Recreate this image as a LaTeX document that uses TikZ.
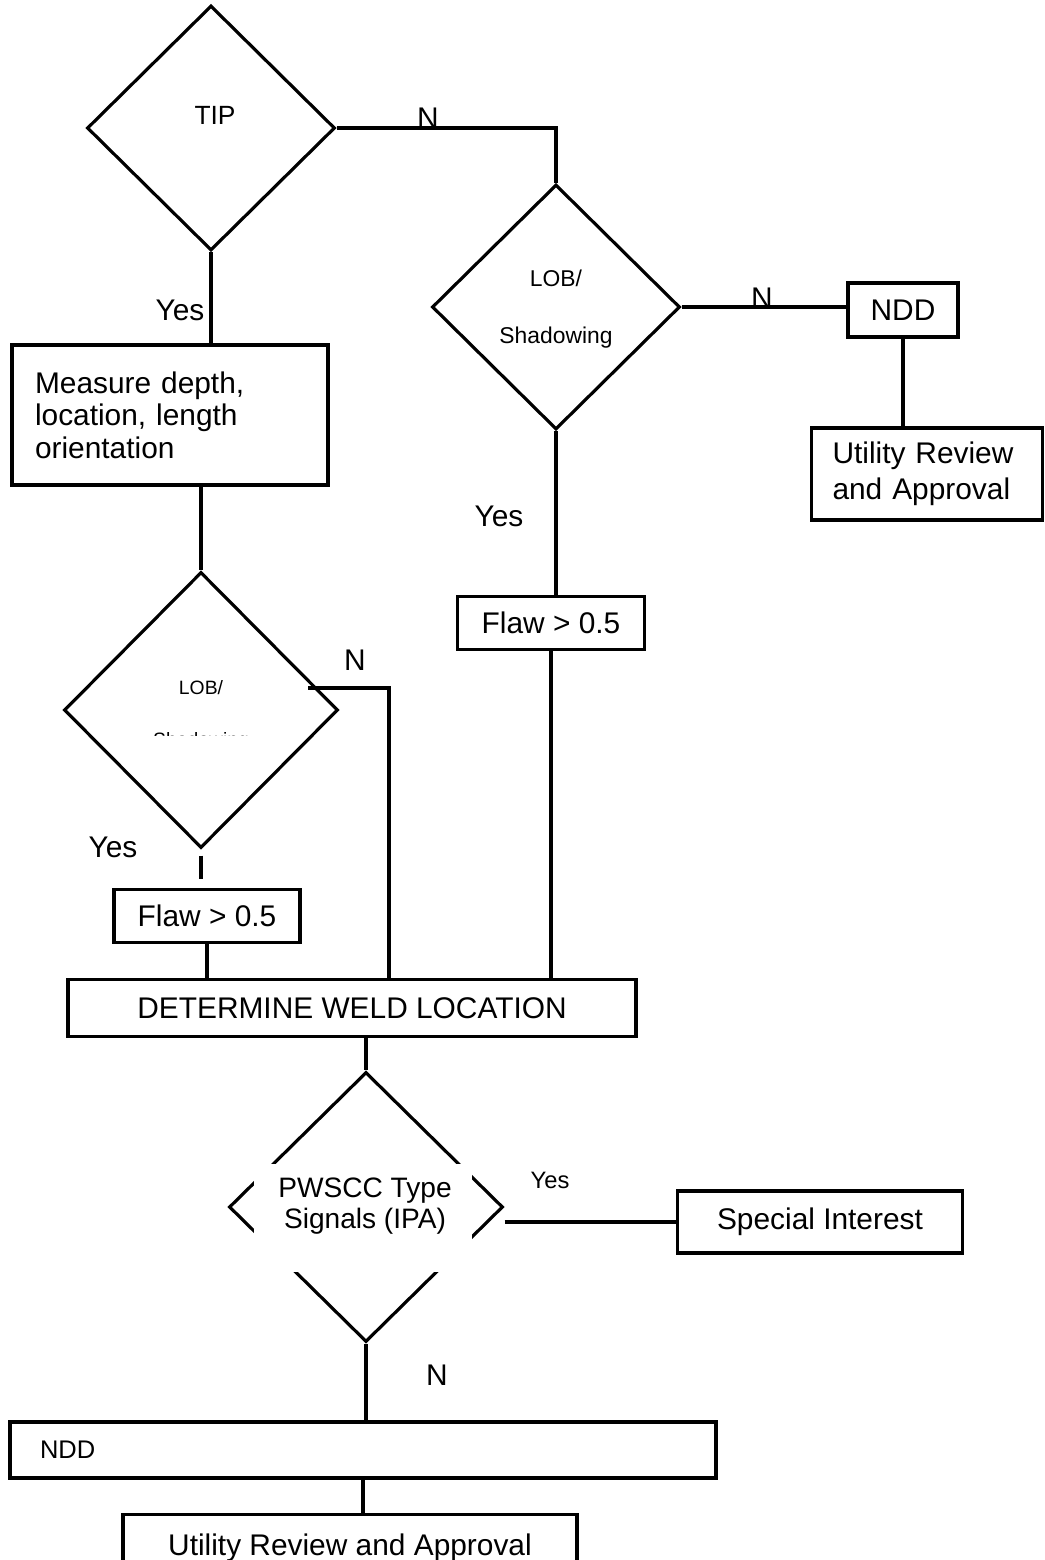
\documentclass[tikz,border=0pt]{standalone}
\usepackage{fontspec}
\setmainfont{Liberation Sans}
\usetikzlibrary{positioning}
\usetikzlibrary{shapes.geometric}

\begin{document}
\begin{tikzpicture}[x=0.02cm, y=-0.02cm,
		line width=1.8pt,
		block/.style={draw, inner sep=0pt, font=\fontsize{17}{20.5}\selectfont},
		decision/.style={draw, diamond, inner sep=0pt},
		lbl/.style={font=\fontsize{17}{20.5}\selectfont}]
		\useasboundingbox (0,0) rectangle (1045,1560);

		% upper part
		\node [decision, minimum width=4.96cm, minimum height=4.9cm] (tip) at (211,128) {};
		\node [lbl, font=\fontsize{15}{18}\selectfont] (tiptxt) at (215,115) {TIP};
		\node [decision, minimum width=4.96cm, minimum height=4.9cm] (lobA) at (556,307) {};
		\node [lbl, font=\fontsize{13}{16}\selectfont, align=center] (lobAtxt) at (556,309) {LOB/\\[16pt]Shadowing};
		\node [block, minimum width=2.2cm, minimum height=1.08cm] (nddA) at (903,310) {NDD};
		\node [block, minimum width=4.62cm, minimum height=1.84cm,
			text width=3.78cm, align=left] (utilA) at (927,474) {Utility Review\\and Approval};
		\node [block, minimum width=6.32cm, minimum height=2.8cm,
			text width=5.4cm, align=left,
			font=\fontsize{17}{18.5}\selectfont] (meas) at (170,415) {Measure depth,\\location, length\\orientation};

		% left branch
		\node [decision, minimum width=5.48cm, minimum height=5.52cm] (lobB) at (201,710) {};
		\node [lbl, font=\fontsize{11}{13}\selectfont] (lobBtxt) at (201,688) {LOB/};
		\begin{scope}
			\clip (140,731) rectangle (260,735);
			\node [lbl, font=\fontsize{11}{13}\selectfont, anchor=base] (lobBcut) at (201,746) {Shadowing};
		\end{scope}
		\node [block, minimum width=3.72cm, minimum height=1.06cm] (flawB) at (207,916) {Flaw > 0.5};
		\node [block, minimum width=3.74cm, minimum height=1.06cm] (flawA) at (551,623) {Flaw > 0.5};
		\node [block, minimum width=11.36cm, minimum height=1.14cm] (det) at (352,1008) {DETERMINE WELD LOCATION};

		% lower part
		\node [decision, minimum width=5.48cm, minimum height=5.4cm] (pw) at (366,1207) {};
		\node [fill=white, inner sep=0pt, minimum width=4.38cm, minimum height=2.16cm] (pwmask) at (363,1218) {};
		\node [lbl, font=\fontsize{16}{18}\selectfont, align=center] (pwtxt) at (365,1206) {PWSCC Type\\Signals (IPA)};
		\node [block, minimum width=5.7cm, minimum height=1.24cm] (spec) at (820,1222) {Special Interest};
		\node [block, minimum width=14.12cm, minimum height=1.12cm,
			text width=12.92cm, align=left,
			font=\fontsize{14.5}{17}\selectfont] (nddB) at (363,1450) {NDD};
		\node [block, anchor=north, minimum width=9.08cm, inner ysep=11pt] (utilB) at (350,1513) {Utility Review and Approval};

		% branch labels
		\node [lbl] (nTip) at (428,118) {N};
		\node [lbl] (yTip) at (180,310) {Yes};
		\node [lbl] (nLobA) at (762,298) {N};
		\node [lbl] (yLobA) at (499,516) {Yes};
		\node [lbl] (nLobB) at (355,660) {N};
		\node [lbl] (yLobB) at (113,847) {Yes};
		\node [lbl, font=\fontsize{13.5}{16}\selectfont] (yPw) at (550,1180) {Yes};
		\node [lbl] (nPw) at (437,1375) {N};

		\coordinate (nB) at (308,688);
		\coordinate (nBc) at (389,688);

		\draw (tip.east) -| (lobA.north);
		\draw (lobA.east) -- (lobA.east -| nddA.west);
		\draw (nddA.south) -- (nddA.south |- utilA.north);
		\draw (tip.south) -- (tip.south |- meas.north);
		\draw (meas.south -| lobB.north) -- (lobB.north);
		\draw (nB) -- (nBc) -- (nBc |- det.north);
		\draw [shorten <=3.4pt, shorten >=5pt] (lobB.south) -- (lobB.south |- flawB.north);
		\draw (flawB.south) -- (flawB.south |- det.north);
		\draw (lobA.south) -- (lobA.south |- flawA.north);
		\draw (flawA.south) -- (flawA.south |- det.north);
		\draw (pw.north |- det.south) -- (pw.north);
		\draw (pw.east |- spec.west) -- (spec.west);
		\draw (pw.south) -- (pw.south |- nddB.north);
		\draw (nddB.south) -- (nddB.south |- utilB.north);
\end{tikzpicture}
\end{document}
